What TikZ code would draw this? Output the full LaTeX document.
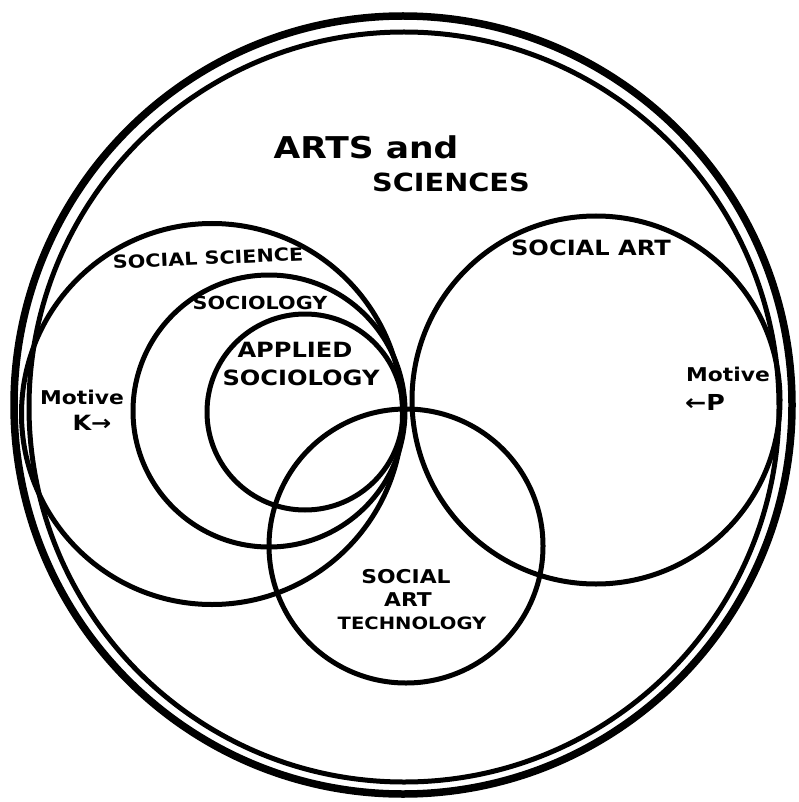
\documentclass[tikz,border=0pt]{standalone}
\usepackage{fontspec}
\newfontfamily\handfont{DejaVu Sans}[FakeStretch=1.15]
\usetikzlibrary{positioning}

\begin{document}
\begin{tikzpicture}[x=1pt, y=-1pt,
    ring/.style={draw, circle, inner sep=0pt, line width=5pt},
    lbl/.style={inner sep=0pt, font=\handfont\bfseries\fontsize{#1}{#1}\selectfont},
    lbl/.default=18
  ]
  \useasboundingbox (0,0) rectangle (799,802);
  % Double border: arts and sciences
  \node[ring, line width=7.5pt, minimum size=778pt] (outer) at (403,405) {};
  \node[ring, line width=5pt, minimum size=750pt] (inner) at (404,407) {};
  % Inner circles, all meeting near one point
  \foreach \name/\x/\y/\d in {socsci/212/414/381, sociol/269/411/272,
                              applied/305/412/196, socart/596/400/368,
                              tech/406/546/274} {
    \node[ring, minimum size=\d pt] (\name) at (\x,\y) {};
  }
  % Labels
  \node[lbl=30] (arts) at (366,147) {ARTS and};
  \node[lbl=25] (sciences) at (451,182) {SCIENCES};
  \node[lbl=18, rotate=2.5] (lsocsci) at (208,258) {SOCIAL SCIENCE};
  \node[lbl=18] (lsociol) at (260,303) {SOCIOLOGY};
  \node[lbl=21] (lapplied) at (295,350) {APPLIED};
  \node[lbl=21, below=12pt of lapplied.south, anchor=north, xshift=6pt] (lapplied2) {SOCIOLOGY};
  \node[lbl=21] (lsocart) at (591,248) {SOCIAL ART};
  \node[lbl=19] (motk) at (82,397) {Motive};
  \node[lbl=21] (ka) at (92,423) {K→};
  \node[lbl=19] (motp) at (728,374) {Motive};
  \node[lbl=22] (pa) at (705,402) {←P};
  \node[lbl=19] (ltech1) at (406,577) {SOCIAL};
  \node[lbl=19] (ltech2) at (408,600) {ART};
  \node[lbl=17] (ltech3) at (412,623) {TECHNOLOGY};
\end{tikzpicture}
\end{document}
